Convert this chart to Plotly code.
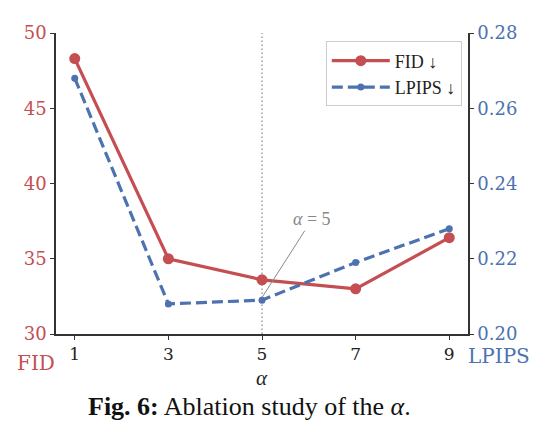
import plotly.graph_objects as go

alpha = [1, 3, 5, 7, 9]
fid = [48.3, 35.0, 33.6, 33.0, 36.4]
lpips = [0.268, 0.208, 0.209, 0.219, 0.228]
fid_ticks = [30, 35, 40, 45, 50]
lpips_ticks = [0.20, 0.22, 0.24, 0.26, 0.28]

RED = "#C44E52"
BLUE = "#4C72B0"
SERIF = "DejaVu Serif"
CM = "Liberation Serif"

fig = go.Figure()
fig.add_trace(go.Scatter(
    x=alpha, y=fid, name="FID ↓", mode="lines+markers",
    line=dict(color=RED, width=3.2), marker=dict(size=11, color=RED),
    yaxis="y"))
fig.add_trace(go.Scatter(
    x=alpha, y=lpips, name="LPIPS ↓", mode="lines+markers",
    line=dict(color=BLUE, width=3.2, dash="11px,5px"), marker=dict(size=7, color=BLUE),
    yaxis="y2"))

fig.add_shape(type="line", xref="x", yref="paper", x0=5, x1=5, y0=0, y1=1,
              line=dict(color="#888888", width=1.2, dash="1.5px,2.5px"), layer="below")

fig.add_annotation(x=5, y=0.2097, xref="x", yref="y2",
                   ax=6.07, ay=0.2305, axref="x", ayref="y2",
                   text="<i>α</i> = 5", showarrow=True, arrowhead=0,
                   arrowwidth=1, arrowcolor="#888888",
                   font=dict(family=CM, size=18, color="#888888"))

fig.add_annotation(x=0, y=0, xref="paper", yref="paper", xanchor="right", yanchor="top",
                   xshift=1, yshift=-15, text="FID", showarrow=False,
                   font=dict(family=SERIF, size=20, color=RED))
fig.add_annotation(x=1, y=0, xref="paper", yref="paper", xanchor="left", yanchor="top",
                   xshift=-2, yshift=-8, text="LPIPS", showarrow=False,
                   font=dict(family=SERIF, size=20, color=BLUE))
fig.add_annotation(x=0.5, y=0, xref="paper", yref="paper", xanchor="center", yanchor="top",
                   yshift=-30, text="<i>α</i>", showarrow=False,
                   font=dict(family=CM, size=21, color="#222222"))
fig.add_annotation(x=0.5, y=0, xref="paper", yref="paper", xanchor="center", yanchor="top",
                   yshift=-56, xshift=-13, text="<b>Fig. 6:</b> Ablation study of the <i>α</i>.",
                   showarrow=False, font=dict(family=CM, size=26, color="#111111"))

fig.update_layout(
    width=552, height=434,
    margin=dict(l=56, r=84, t=33, b=100),
    paper_bgcolor="white", plot_bgcolor="white",
    showlegend=True,
    legend=dict(x=0.985, y=0.972, xanchor="right", yanchor="top",
                bgcolor="white", bordercolor="#cccccc", borderwidth=1,
                font=dict(family=CM, size=18, color="#222222"),
                itemwidth=58, tracegroupgap=0),
    xaxis=dict(range=[0.6, 9.4], tickvals=alpha, ticks="outside", ticklen=4,
               tickcolor="#333333", showline=True, linecolor="#333333", linewidth=1.5,
               showgrid=False, zeroline=False,
               tickfont=dict(family=SERIF, size=17, color="#222222")),
    yaxis=dict(range=[30, 50], tickvals=fid_ticks, ticks="outside", ticklen=4,
               tickcolor="#333333", showline=True, linecolor="#333333", linewidth=1.5,
               showgrid=False, zeroline=False,
               tickfont=dict(family=SERIF, size=18, color=RED)),
    yaxis2=dict(range=[0.20, 0.28], tickvals=lpips_ticks, tickformat=".2f",
                overlaying="y", side="right", ticks="outside", ticklen=4,
                tickcolor="#333333", showline=True, linecolor="#333333", linewidth=1.5,
                showgrid=False, zeroline=False,
                tickfont=dict(family=SERIF, size=18, color=BLUE)),
)

fig.write_html("out.html")
